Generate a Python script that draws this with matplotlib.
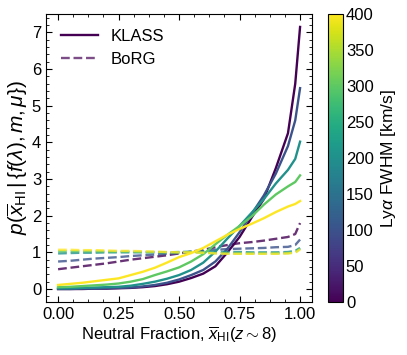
import matplotlib
matplotlib.use("Agg")
import matplotlib.pyplot as plt
import matplotlib as mpl
from matplotlib.ticker import AutoMinorLocator
import numpy as np

plt.rcParams["font.family"] = ["Liberation Sans", "DejaVu Sans"]
plt.rcParams["mathtext.fontset"] = "custom"
plt.rcParams["mathtext.rm"] = "Liberation Sans"
plt.rcParams["mathtext.it"] = "Liberation Sans:italic"

# neutral fraction grid
x_hi = [0.00, 0.05, 0.10, 0.15, 0.20, 0.25, 0.30, 0.35, 0.40, 0.45, 0.50,
        0.55, 0.60, 0.65, 0.70, 0.75, 0.80, 0.85, 0.90, 0.95, 0.98, 1.00]

fwhm_values = [0, 100, 200, 300, 400]

# KLASS posteriors (solid)
klass_0 = [0.00, 0.00, 0.00, 0.01, 0.01, 0.02, 0.03, 0.05, 0.08, 0.13, 0.20,
           0.30, 0.42, 0.62, 1.00, 1.42, 1.95, 2.45, 3.30, 4.25, 5.60, 7.15]
klass_100 = [0.00, 0.00, 0.01, 0.01, 0.02, 0.03, 0.04, 0.07, 0.11, 0.17, 0.26,
             0.38, 0.52, 0.75, 1.10, 1.55, 2.05, 2.55, 3.15, 3.90, 4.60, 5.48]
klass_200 = [0.02, 0.02, 0.03, 0.04, 0.05, 0.06, 0.09, 0.14, 0.20, 0.28, 0.38,
             0.52, 0.72, 1.02, 1.38, 1.72, 2.08, 2.45, 2.88, 3.25, 3.55, 4.02]
klass_300 = [0.05, 0.06, 0.08, 0.10, 0.12, 0.15, 0.20, 0.27, 0.38, 0.48, 0.59,
             0.75, 0.95, 1.22, 1.48, 1.72, 1.98, 2.30, 2.58, 2.80, 2.92, 3.10]
klass_400 = [0.11, 0.14, 0.17, 0.21, 0.25, 0.29, 0.38, 0.47, 0.58, 0.72, 0.87,
             0.98, 1.12, 1.30, 1.48, 1.64, 1.78, 1.93, 2.10, 2.25, 2.32, 2.40]

# BoRG posteriors (dashed)
borg_0 = [0.54, 0.58, 0.62, 0.66, 0.70, 0.75, 0.80, 0.84, 0.88, 0.92, 0.97,
          1.02, 1.07, 1.14, 1.20, 1.25, 1.28, 1.32, 1.37, 1.42, 1.50, 1.80]
borg_100 = [0.75, 0.77, 0.80, 0.83, 0.85, 0.87, 0.90, 0.92, 0.94, 0.96, 0.98,
            1.01, 1.04, 1.07, 1.09, 1.10, 1.11, 1.12, 1.14, 1.15, 1.20, 1.35]
borg_200 = [0.97, 0.98, 0.99, 0.99, 1.00, 1.00, 1.00, 1.00, 1.00, 1.00, 1.01,
            1.02, 1.02, 1.02, 1.01, 1.01, 1.00, 1.00, 1.00, 1.01, 1.04, 1.12]
borg_300 = [1.03, 1.03, 1.03, 1.03, 1.02, 1.02, 1.02, 1.01, 1.01, 1.00, 1.00,
            1.00, 0.99, 0.98, 0.97, 0.97, 0.97, 0.97, 0.97, 0.98, 1.00, 1.10]
borg_400 = [1.07, 1.07, 1.06, 1.06, 1.05, 1.04, 1.04, 1.03, 1.02, 1.01, 1.00,
            1.00, 0.99, 0.97, 0.96, 0.96, 0.96, 0.96, 0.96, 0.97, 0.99, 1.08]

klass = [klass_0, klass_100, klass_200, klass_300, klass_400]
borg = [borg_0, borg_100, borg_200, borg_300, borg_400]

cmap = plt.get_cmap("viridis")
norm = mpl.colors.Normalize(vmin=0, vmax=400)

fig = plt.figure(figsize=(4.07, 3.55), dpi=100)
ax = fig.add_axes([0.113, 0.149, 0.654, 0.812])
cax = fig.add_axes([0.806, 0.149, 0.037, 0.812])

for fw, yk, yb in zip(fwhm_values, klass, borg):
    c = cmap(norm(fw))
    ax.plot(x_hi, yk, color=c, lw=1.7)
    ax.plot(x_hi, yb, color=c, lw=1.7, ls="--", alpha=0.8)

ax.plot([], [], color=cmap(0.0), lw=1.7, label="KLASS")
ax.plot([], [], color=cmap(0.0), lw=1.7, ls="--", alpha=0.7, label="BoRG")
ax.legend(loc="upper left", frameon=False, fontsize=12, handlelength=2.2)

ax.set_xticks([0.0, 0.25, 0.5, 0.75, 1.0])
ax.set_yticks(range(0, 8))
ax.xaxis.set_minor_locator(AutoMinorLocator(4))
ax.yaxis.set_minor_locator(AutoMinorLocator(5))
ax.tick_params(which="both", direction="in", top=True, right=True, labelsize=12)
ax.tick_params(which="major", length=4)
ax.tick_params(which="minor", length=2)
ax.set_xlabel(r"Neutral Fraction, $\overline{x}_\mathrm{HI}(z\sim8)$", fontsize=12, labelpad=2)
ax.set_ylabel(r"$p(\overline{x}_\mathrm{HI}\,|\,\{f(\lambda), m, \mu\})$", fontsize=15, labelpad=1)

cb = mpl.colorbar.ColorbarBase(cax, cmap=cmap, norm=norm)
cb.set_ticks(range(0, 401, 50))
cax.tick_params(length=0, labelsize=12, pad=2)
cb.set_label(r"Ly$\alpha$ FWHM [km/s]", fontsize=12.5)

fig.savefig("out.png", dpi=100)
